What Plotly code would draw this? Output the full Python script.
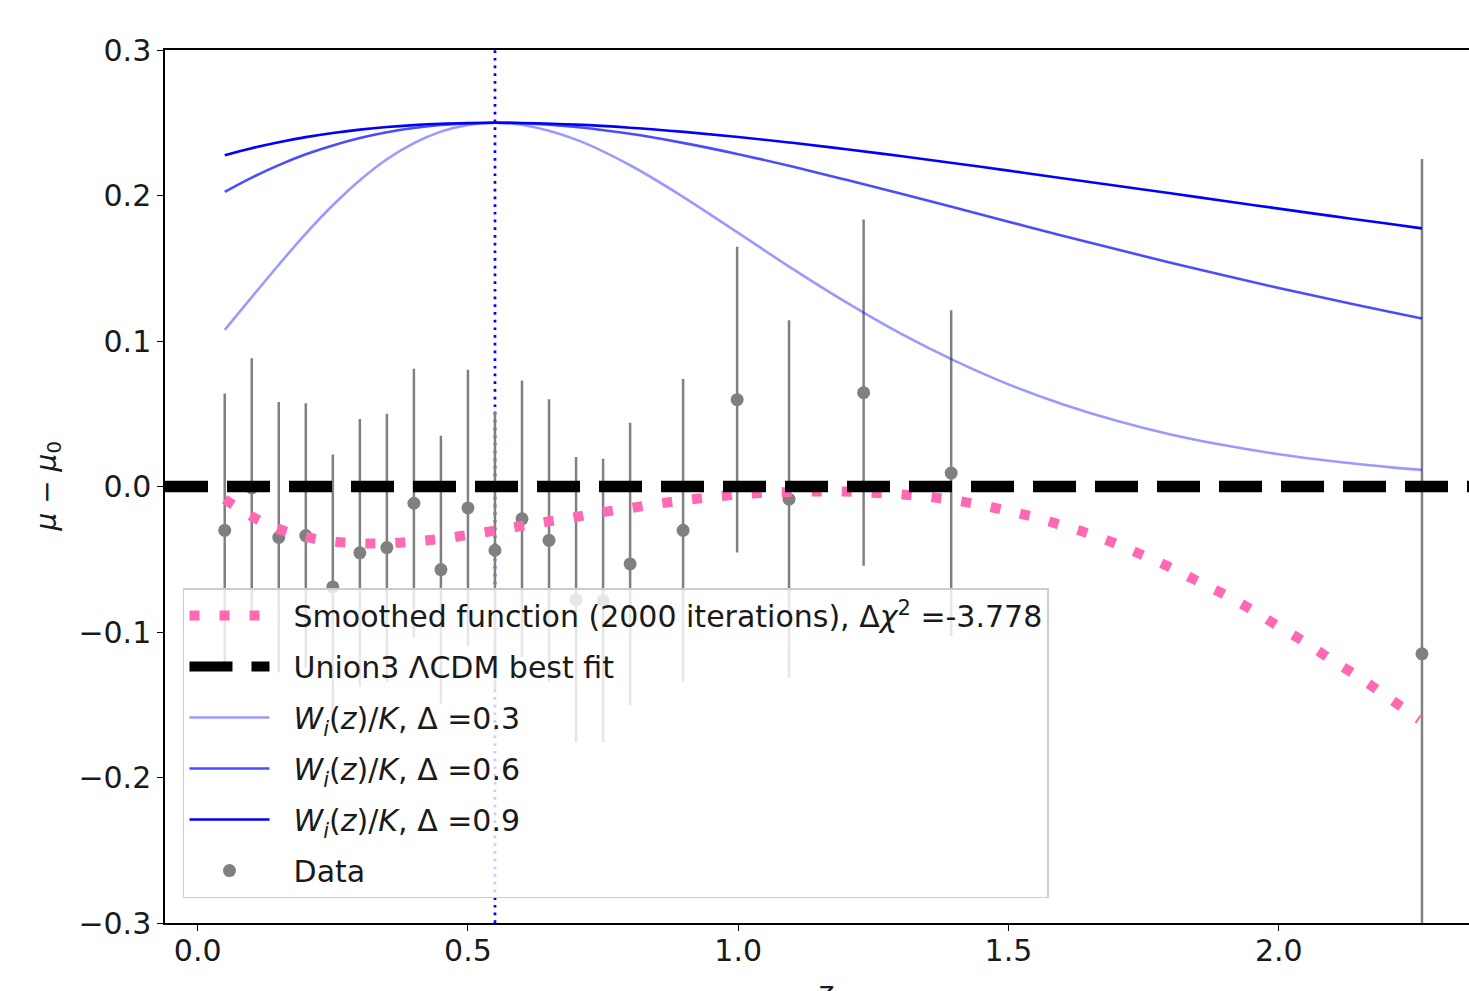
import plotly.graph_objects as go

# Binned distance-modulus residuals (Union3)
Z_DATA = [0.05, 0.10, 0.15, 0.20, 0.25, 0.30, 0.35, 0.40, 0.45, 0.50, 0.55,
          0.60, 0.65, 0.70, 0.75, 0.80, 0.898, 0.998, 1.094, 1.232, 1.394, 2.265]
MU_DATA = [-0.0301, -0.0009, -0.0349, -0.0337, -0.0690, -0.0456, -0.0420,
           -0.0115, -0.0571, -0.0147, -0.0438, -0.0222, -0.0370, -0.0778,
           -0.0785, -0.0532, -0.0301, 0.0597, -0.0087, 0.0645, 0.0092, -0.1150]
MU_ERR = [0.094, 0.089, 0.093, 0.091, 0.091, 0.092, 0.092, 0.0925, 0.092,
          0.095, 0.0956, 0.095, 0.097, 0.098, 0.0975, 0.097, 0.104, 0.105,
          0.123, 0.119, 0.112, 0.340]

# Window functions W_i(z)/K centred on z = 0.55
Z_W = [0.05, 0.10, 0.15, 0.20, 0.25, 0.30, 0.35, 0.40, 0.45, 0.50, 0.55,
       0.60, 0.70, 0.80, 0.90, 1.00, 1.10, 1.20, 1.30, 1.40, 1.50, 1.60,
       1.70, 1.80, 1.90, 2.00, 2.10, 2.20, 2.265]
W_03 = [0.1077, 0.1301, 0.1524, 0.1738, 0.1933, 0.2105, 0.2249, 0.2360,
        0.2439, 0.2485, 0.2500, 0.2486, 0.2384, 0.2208, 0.1986, 0.1743,
        0.1497, 0.1265, 0.1052, 0.0865, 0.0702, 0.0566, 0.0452, 0.0358,
        0.0283, 0.0222, 0.0173, 0.0135, 0.0114]
W_06 = [0.2025, 0.2123, 0.2209, 0.2283, 0.2344, 0.2395, 0.2435, 0.2464,
        0.2485, 0.2496, 0.2500, 0.2497, 0.2471, 0.2424, 0.2360, 0.2284,
        0.2199, 0.2108, 0.2014, 0.1917, 0.1820, 0.1724, 0.1630, 0.1538,
        0.1450, 0.1364, 0.1283, 0.1205, 0.1155]
W_09 = [0.2277, 0.2325, 0.2366, 0.2401, 0.2430, 0.2453, 0.2471, 0.2484,
        0.2493, 0.2498, 0.2500, 0.2498, 0.2487, 0.2466, 0.2437, 0.2402,
        0.2362, 0.2318, 0.2271, 0.2222, 0.2171, 0.2119, 0.2067, 0.2015,
        0.1962, 0.1910, 0.1858, 0.1807, 0.1774]

# Smoothed reconstruction (2000 iterations)
Z_SMOOTH = [0.05, 0.10, 0.15, 0.20, 0.25, 0.30, 0.35, 0.40, 0.45, 0.50,
            0.55, 0.60, 0.65, 0.70, 0.75, 0.80, 0.85, 0.90, 0.95, 1.00,
            1.05, 1.10, 1.15, 1.20, 1.25, 1.30, 1.35, 1.40, 1.45, 1.50,
            1.55, 1.60, 1.65, 1.70, 1.75, 1.80, 1.85, 1.90, 1.95, 2.00,
            2.05, 2.10, 2.15, 2.20, 2.26]
MU_SMOOTH = [-0.0088, -0.0205, -0.0292, -0.0347, -0.0378, -0.0390, -0.0390,
             -0.0378, -0.0360, -0.0333, -0.0303, -0.0271, -0.0240, -0.0209,
             -0.0176, -0.0149, -0.0119, -0.0095, -0.0073, -0.0055, -0.0044,
             -0.0038, -0.0034, -0.0035, -0.0043, -0.0054, -0.0070, -0.0095,
             -0.0128, -0.0168, -0.0213, -0.0268, -0.0326, -0.0395, -0.0475,
             -0.0557, -0.0650, -0.0743, -0.0847, -0.0963, -0.1073, -0.1197,
             -0.1314, -0.1444, -0.1600]

Z_PEAK = 0.55
X_RANGE = [-0.0605, 2.352]
Y_RANGE = [-0.3, 0.3]
X_TICKS = [0.0, 0.5, 1.0, 1.5, 2.0]
Y_TICKS = [-0.3, -0.2, -0.1, 0.0, 0.1, 0.2, 0.3]

FONT = "DejaVu Sans"
TXT = "#1a1a1a"
PAD = "\u00a0\u00a0"  # gap between legend swatch and label

fig = go.Figure()

# centre of the window functions
fig.add_trace(go.Scatter(
    x=[Z_PEAK, Z_PEAK], y=Y_RANGE, mode="lines",
    line=dict(color="#0000ff", width=2.7, dash="2.7px,5px"),
    showlegend=False, hoverinfo="skip"))

# binned data with error bars
fig.add_trace(go.Scatter(
    x=Z_DATA, y=MU_DATA, mode="markers", name=PAD + "Data",
    marker=dict(color="gray", size=13),
    error_y=dict(type="data", array=MU_ERR, visible=True,
                 color="gray", thickness=2.5, width=0),
    legendgroup="g6", legendrank=6))

# window functions
for vals, col, delta, rank in [(W_03, "rgba(0,0,255,0.4)", "0.3", 3),
                               (W_06, "rgba(0,0,255,0.7)", "0.6", 4),
                               (W_09, "rgba(0,0,255,1.0)", "0.9", 5)]:
    fig.add_trace(go.Scatter(
        x=Z_W, y=vals, mode="lines", line=dict(color=col, width=2.6, shape="spline"),
        name=PAD + "<i>W<sub>i</sub></i>(<i>z</i>)/<i>K</i>, \u0394 =" + delta,
        legendgroup="g%d" % rank, legendrank=rank))

# smoothed function
fig.add_trace(go.Scatter(
    x=Z_SMOOTH, y=MU_SMOOTH, mode="lines",
    line=dict(color="#ff69b4", width=10, dash="10px,20px", shape="spline"),
    name=PAD + "Smoothed function (2000 iterations), \u0394<i>\u03c7</i><sup>2</sup> =-3.778",
    legendgroup="g1", legendrank=1))

# LCDM reference
fig.add_trace(go.Scatter(
    x=X_RANGE, y=[0, 0], mode="lines",
    line=dict(color="black", width=11.5, dash="43px,19px"),
    name=PAD + "Union3 \u039bCDM best fit",
    legendgroup="g2", legendrank=2))

axis_common = dict(
    showline=True, linecolor="black", linewidth=1.5,
    ticks="outside", ticklen=6, tickwidth=1.3, tickcolor="black",
    showgrid=False, zeroline=False,
    tickfont=dict(family=FONT, size=30, color=TXT),
)

fig.update_layout(
    width=1469, height=991,
    margin=dict(l=165, r=0, t=50, b=68),
    paper_bgcolor="white", plot_bgcolor="white",
    xaxis=dict(range=X_RANGE, tickvals=X_TICKS, tickformat=".1f",
               mirror=True, ticklabelstandoff=-6, **axis_common),
    yaxis=dict(range=Y_RANGE, tickvals=Y_TICKS, tickformat=".1f", **axis_common),
    legend=dict(x=0.0138, y=0.3837, xanchor="left", yanchor="top",
                bgcolor="rgba(255,255,255,0.8)", bordercolor="#cccccc",
                borderwidth=1.5, traceorder="grouped", tracegroupgap=9,
                itemwidth=80,
                font=dict(family=FONT, size=30, color=TXT)),
    showlegend=True,
    annotations=[
        dict(text="<i>\u03bc</i> \u2212 <i>\u03bc</i><sub>0</sub>",
             xref="paper", yref="paper", x=0, y=0.5, xshift=-117,
             xanchor="center", yanchor="middle", textangle=-90,
             showarrow=False, font=dict(family=FONT, size=28, color=TXT)),
        dict(text="<i>z</i>", xref="x", yref="paper", x=1.16, y=0,
             yshift=-50, xanchor="center", yanchor="top",
             showarrow=False, font=dict(family=FONT, size=30, color=TXT)),
    ],
)

fig.write_html("out.html")
